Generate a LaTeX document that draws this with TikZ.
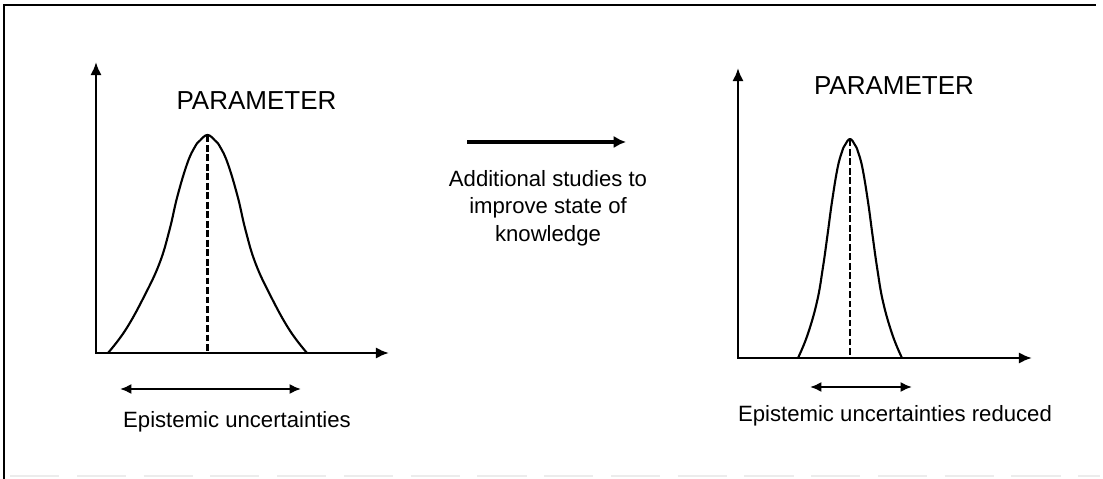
\documentclass[tikz,border=0pt]{standalone}
\usepackage{fontspec}
\setmainfont{Liberation Sans}
\usetikzlibrary{arrows.meta}

\begin{document}
\begin{tikzpicture}[x=0.02cm,y=-0.02cm,
	axes/.style={line width=1.6pt,{Latex[length=7.5pt,width=6.5pt]}-{Latex[length=7.5pt,width=6.5pt]}},
	span/.style={line width=1.5pt,{Latex[length=6.5pt,width=5.8pt]}-{Latex[length=6.5pt,width=5.8pt]}},
	studyarrow/.style={line width=2.6pt,-{Latex[length=7pt,width=7pt]}},
	curve/.style={line width=1.2pt,line join=round},
	mean/.style={line width=1.25pt,dash pattern=on 3.8pt off 1.6pt},
	label/.style={font=\fontsize{12.6}{15.6}\selectfont},
	title/.style={font=\fontsize{14.8}{17}\selectfont}]
	\useasboundingbox (0,0) rectangle (1103,479);
	% frame
	\draw[line width=1.1pt] (4,479)--(4,5)--(1096,5);
	\draw[gray!15,line width=0.8pt,dash pattern=on 28pt off 10pt] (10,476)--(1100,476);
	% wide distribution
	\coordinate (yL) at (96,62);
	\coordinate (oL) at (96,353);
	\coordinate (xL) at (389,353);
	\draw[axes] (yL)--(oL)--(xL);
	\draw[curve] plot[smooth,tension=0.7] coordinates {(108,353) (125.5,330) (144,296.7) (159.5,263.3) (169.5,230) (177.3,196.7)
		(187.3,163.3) (195,146.7) (200,140.5) (207.5,135) (215,140.5) (220,146.7) (227.7,163.3)
		(237.7,196.7) (245.5,230) (255.5,263.3) (271,296.7) (289.5,330) (307,353)};
	\coordinate (pL) at (207.5,135.5);
	\coordinate (bL) at (207.5,353);
	\draw[mean] (pL)--(bL);
	\node[title] (parL) at (256.5,101) {PARAMETER};
	\coordinate (sL1) at (120,389);
	\coordinate (sL2) at (301,389);
	\draw[span] (sL1)--(sL2);
	\node[label,anchor=base] (epiL) at (237,428) {Epistemic uncertainties};
	% studies
	\coordinate (m1) at (467,142);
	\coordinate (m2) at (626,142);
	\draw[studyarrow] (m1)--(m2);
	\node[label,align=center] (study) at (548,208) {Additional studies to\\improve state of\\knowledge};
	% narrow distribution
	\coordinate (yR) at (738,68);
	\coordinate (oR) at (738,358);
	\coordinate (xR) at (1032,358);
	\draw[axes] (yR)--(oR)--(xR);
	\draw[curve] plot[smooth,tension=0.7] coordinates {(798,358) (807.5,335) (817,301.7) (822.8,268.3) (827.5,235) (832,201.7)
		(837.5,168.3) (842,151.7) (845,145) (850,139) (855,145) (858,151.7) (862.5,168.3)
		(868,201.7) (872.5,235) (877.2,268.3) (883,301.7) (892.5,335) (902,358)};
	\coordinate (pR) at (850,139.5);
	\coordinate (bR) at (850,358);
	\draw[mean] (pR)--(bR);
	\node[title] (parR) at (894,86) {PARAMETER};
	\coordinate (sR1) at (810,387);
	\coordinate (sR2) at (912,387);
	\draw[span] (sR1)--(sR2);
	\node[label,anchor=base] (epiR) at (895,422) {Epistemic uncertainties reduced};
\end{tikzpicture}
\end{document}
